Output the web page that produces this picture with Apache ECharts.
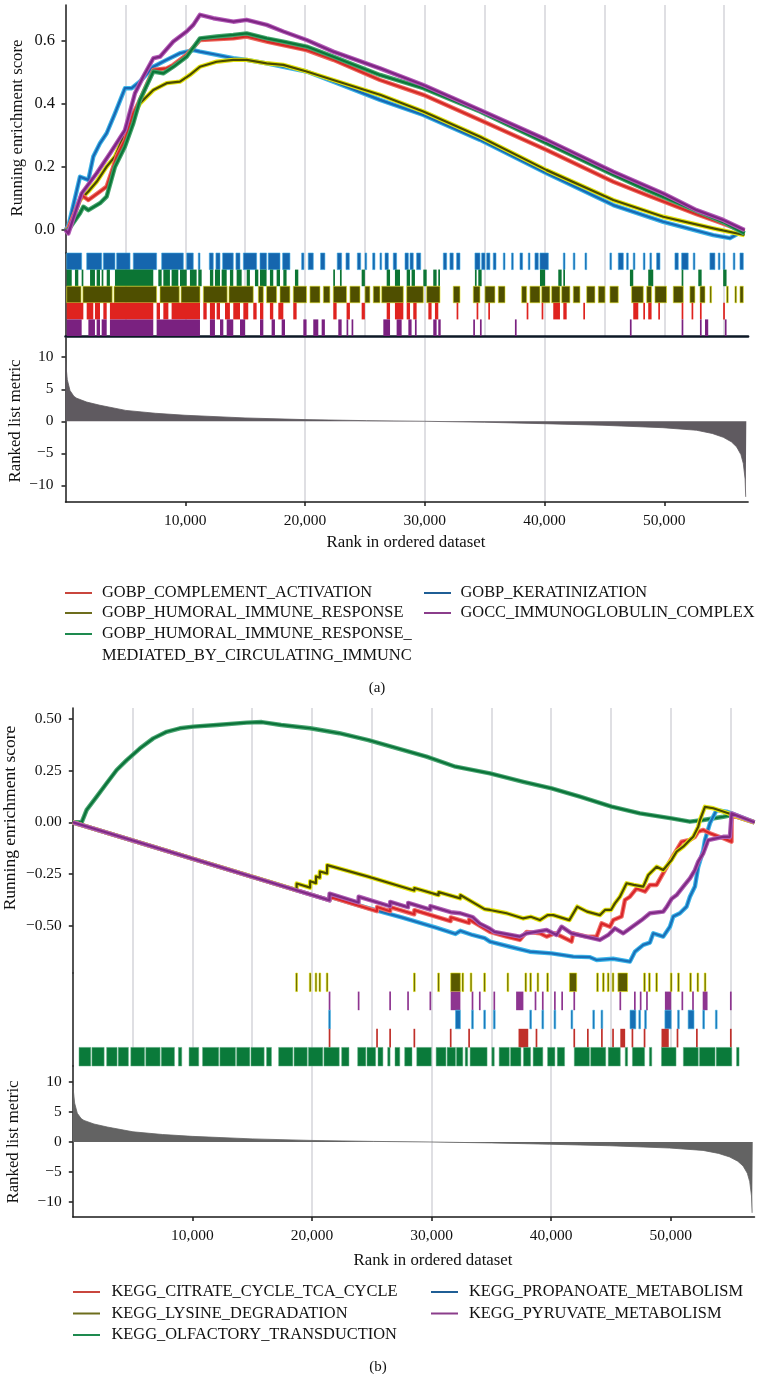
<!DOCTYPE html>
<html><head><meta charset="utf-8">
<script src="https://cdn.jsdelivr.net/npm/echarts@6/dist/echarts.min.js"></script>
<style>html,body{margin:0;padding:0;background:#fff}#c{width:761px;height:1374px}</style>
</head><body><div id="c"></div>
<script>
// ---------------- DATA ----------------
const rankMax = 57000;
const rankTicks = [10000, 20000, 30000, 40000, 50000];
const esTicksA = [0, 0.2, 0.4, 0.6];
const esTicksB = [-0.5, -0.25, 0, 0.25, 0.5];
const metricTicks = [-10, -5, 0, 5, 10];

const namesA = ['GOBP_COMPLEMENT_ACTIVATION', 'GOBP_HUMORAL_IMMUNE_RESPONSE',
  'GOBP_HUMORAL_IMMUNE_RESPONSE_MEDIATED_BY_CIRCULATING_IMMUNC', 'GOBP_KERATINIZATION',
  'GOCC_IMMUNOGLOBULIN_COMPLEX'];
const namesB = ['KEGG_CITRATE_CYCLE_TCA_CYCLE', 'KEGG_LYSINE_DEGRADATION',
  'KEGG_OLFACTORY_TRANSDUCTION', 'KEGG_PROPANOATE_METABOLISM', 'KEGG_PYRUVATE_METABOLISM'];

// running enrichment score, panel (a): [rank, score]
const esA_complement = [[0,0],[236,0.005],[1349,0.111],[1906,0.095],[2880,0.122],[3437,0.138],[4272,0.233],[4967,0.286],[5663,0.37],[6220,0.413],[7333,0.508],[8446,0.513],[9003,0.524],[10116,0.556],[11229,0.603],[14012,0.608],[15125,0.614],[16795,0.598],[20135,0.571],[22361,0.54],[26261,0.476],[29879,0.429],[34610,0.349],[40176,0.254],[45742,0.153],[48525,0.111],[52700,0.05],[54926,0.02],[56700,-0.005]];
const esA_humoral = [[0,0],[236,0],[1210,0.095],[1906,0.122],[2602,0.153],[3437,0.201],[4132,0.233],[4967,0.307],[5941,0.381],[6220,0.402],[7333,0.444],[8446,0.466],[9559,0.471],[10394,0.492],[11229,0.518],[12621,0.534],[14012,0.54],[15125,0.54],[16795,0.529],[18187,0.524],[20135,0.503],[22361,0.476],[26261,0.429],[29879,0.376],[34610,0.296],[40176,0.19],[45742,0.095],[49917,0.042],[54091,0.005],[56700,-0.016]];
const esA_mediated = [[0,0],[236,0],[1210,0.053],[1489,0.074],[1906,0.063],[2880,0.085],[3437,0.106],[4132,0.201],[4967,0.265],[5663,0.339],[6220,0.413],[7333,0.503],[8168,0.497],[9003,0.518],[10116,0.55],[11229,0.608],[12621,0.614],[14012,0.619],[15125,0.624],[16795,0.608],[18187,0.598],[20135,0.582],[22361,0.55],[26261,0.492],[29879,0.45],[34610,0.376],[40176,0.275],[45742,0.175],[48525,0.127],[52700,0.06],[54926,0.025],[56700,-0.011]];
const esA_keratinization = [[0,0],[236,0.011],[1210,0.169],[1906,0.159],[2323,0.233],[2880,0.275],[3437,0.307],[4132,0.37],[4967,0.45],[5524,0.45],[6220,0.471],[7333,0.518],[8446,0.54],[9559,0.561],[10672,0.571],[11229,0.566],[12621,0.556],[14012,0.545],[15125,0.54],[16795,0.529],[18187,0.518],[20135,0.503],[22361,0.471],[26261,0.413],[29879,0.365],[34610,0.286],[40176,0.18],[45742,0.079],[49917,0.026],[54091,-0.016],[55483,-0.026],[56700,0]];
const esA_immunoglobulin = [[0,0],[236,-0.011],[1349,0.116],[2602,0.18],[3715,0.243],[4967,0.317],[5802,0.434],[6498,0.487],[7333,0.545],[7889,0.55],[9003,0.598],[10116,0.63],[10672,0.651],[11229,0.683],[12342,0.672],[14012,0.661],[15125,0.667],[16795,0.651],[18187,0.63],[20135,0.603],[22361,0.566],[26261,0.513],[29879,0.46],[34610,0.381],[40176,0.286],[45742,0.185],[49917,0.116],[52700,0.063],[54926,0.032],[56700,0]];

// gene hits, panel (a): [firstRank, lastRank]
const hitsA_keratinization = [[100,1350],[1770,3020],[3160,4130],[4270,5390],[5660,7610],[8030,9840],[10120,10670],[11090,11230],[12010,12340],[12560,12900],[13120,14010],[14230,14570],[14850,15960],[16240,16790],[16930,17910],[18130,18740],[19720,19910],[20270,20690],[21300,21660],[22690,23060],[23420,23700],[24370,24650],[25010,25150],[25650,25840],[26260,26400],[26680,26960],[27370,27650],[28350,28630],[28770,29040],[29320,29660],[31550,31830],[32100,32380],[32660,32940],[34190,34610],[34750,35030],[35170,35440],[35720,35950],[36560,36700],[37250,37390],[37950,38170],[38650,38780],[39200,39480],[39620,40320],[41570,41710],[42400,42540],[43380,43520],[45460,45600],[46160,46580],[46860,46990],[47410,47550],[48250,48390],[48800,48940],[49360,49640],[50890,51170],[51450,52000],[52420,52560],[53810,54230],[54510,54650],[54920,55060],[55760,55900],[56320,56600]];
const hitsA_mediated = [[100,520],[790,1070],[1350,1490],[2050,2460],[2600,2880],[3020,3160],[3440,3710],[4130,7330],[7750,8030],[8170,8720],[8860,9420],[9560,10120],[10390,10950],[11090,11370],[12060,12340],[12480,12900],[13040,13460],[13730,14010],[14290,14710],[15130,15400],[15820,16100],[16240,16790],[17070,17350],[17630,17910],[18190,18460],[19160,19440],[22360,22500],[22920,23060],[24730,25000],[26820,27100],[27510,27930],[28490,28770],[28900,29180],[29880,30160],[30710,30990],[31130,31270],[34190,34330],[34470,34750],[39620,40040],[41150,41430],[41570,41710],[47130,47410],[48660,49080],[51450,51590],[52840,53120],[54920,55200]];
const hitsA_humoral = [[100,1300],[1450,3900],[4050,7610],[7890,9500],[9650,11230],[11510,13500],[13650,15680],[16100,16520],[16790,17630],[17910,18740],[19020,20130],[20410,21250],[21530,22080],[22360,23470],[23750,24590],[25010,25420],[25700,26260],[26400,28210],[28490,29880],[30160,31270],[32380,32940],[34050,34610],[35030,35860],[36140,36700],[38090,38510],[38780,39620],[39760,40450],[40590,41290],[41430,42120],[42400,42960],[43520,44210],[44490,45050],[45460,46160],[47270,48250],[48530,48940],[49220,50190],[50750,51590],[52140,52560],[52980,53400],[53810,53950],[55200,55340],[55900,56040],[56320,56600]];
const hitsA_complement = [[100,1490],[1770,2320],[2460,2880],[3160,3440],[3710,7330],[7610,7890],[8170,8590],[8860,11230],[11510,11790],[12060,12480],[12620,12900],[13320,13730],[14010,14570],[14850,15260],[15680,15960],[16240,16520],[17070,17350],[17770,18190],[19020,19300],[22360,22640],[23470,23750],[24730,25000],[26820,27100],[27510,28210],[28490,28770],[29040,29320],[30300,30570],[30850,31130],[32660,32800],[34330,34470],[35310,35440],[38510,38650],[39760,39900],[40730,41290],[41570,41850],[43240,43380],[47410,47830],[48250,48390],[48660,48940],[49500,49640],[51450,51590],[52280,52420],[52980,53120],[54920,55060]];
const hitsA_immunoglobulin = [[100,1350],[1910,2460],[2600,2880],[3020,3440],[3710,7330],[7610,11230],[12060,12480],[12900,13180],[13460,14010],[14570,14990],[16240,16520],[17210,17490],[18050,18330],[19860,20130],[20690,21110],[21390,21660],[22780,23060],[23470,23610],[23890,24030],[26540,27100],[27650,28070],[28630,28900],[29180,29320],[30710,30990],[31130,31330],[34050,34190],[34610,34750],[37530,37670],[47130,47270],[51450,51590],[52980,53120],[53400,53670],[55060,55200]];

// running enrichment score, panel (b)
const esB_citrate = [[0,0],[21460,-0.377],[21470,-0.36],[25430,-0.43],[25440,-0.41],[26530,-0.43],[26540,-0.41],[28550,-0.445],[28560,-0.425],[31590,-0.478],[31600,-0.46],[33130,-0.487],[33140,-0.47],[34878,-0.53],[36272,-0.553],[37386,-0.569],[37944,-0.53],[39058,-0.537],[39616,-0.553],[40313,-0.537],[41706,-0.577],[41845,-0.537],[42960,-0.553],[43796,-0.553],[44215,-0.489],[44912,-0.505],[45190,-0.473],[45887,-0.456],[46166,-0.376],[46583,-0.36],[47140,-0.32],[47838,-0.335],[48256,-0.303],[48813,-0.303],[49510,-0.231],[50066,-0.174],[50903,-0.094],[51600,-0.085],[52018,-0.07],[52297,-0.045],[52715,-0.037],[53273,-0.053],[54387,-0.077],[55080,-0.094],[55090,0.035],[57000,0]];
const esB_lysine = [[0,0],[18710,-0.328],[18720,-0.296],[19840,-0.316],[19850,-0.285],[20330,-0.294],[20340,-0.262],[20650,-0.268],[20660,-0.238],[21260,-0.247],[21270,-0.207],[24700,-0.263],[28550,-0.33],[28560,-0.318],[30580,-0.352],[30590,-0.338],[32400,-0.368],[32410,-0.352],[34430,-0.42],[34878,-0.424],[36272,-0.44],[37665,-0.465],[38290,-0.457],[39058,-0.473],[39700,-0.449],[40173,-0.449],[41520,-0.473],[42180,-0.408],[43000,-0.432],[44075,-0.449],[44500,-0.424],[45000,-0.424],[45329,-0.392],[45750,-0.36],[46305,-0.295],[46900,-0.303],[47698,-0.311],[48120,-0.255],[48813,-0.215],[49370,-0.231],[50066,-0.182],[50485,-0.142],[51040,-0.118],[51600,-0.085],[51879,-0.07],[52297,-0.021],[52437,0.011],[52855,0.075],[53550,0.068],[55000,0.04],[57000,0]];
const esB_olfactory = [[0,0],[740,0],[1160,0.06],[2000,0.124],[2830,0.189],[3670,0.253],[4510,0.301],[5620,0.358],[6730,0.406],[7850,0.438],[8960,0.455],[10070,0.463],[12030,0.471],[14540,0.482],[15800,0.485],[17420,0.471],[19850,0.455],[22280,0.431],[24710,0.398],[27140,0.358],[29570,0.318],[32000,0.269],[34878,0.237],[37665,0.196],[40034,0.164],[42403,0.124],[45050,0.076],[47420,0.043],[50066,0.019],[51600,0.003],[52715,0.011],[54387,0.027],[55100,0.035],[57000,0]];
const esB_propanoate = [[0,0],[21460,-0.377],[21470,-0.36],[24700,-0.415],[27500,-0.46],[30380,-0.51],[32000,-0.54],[32400,-0.525],[33420,-0.545],[34434,-0.56],[34878,-0.577],[36550,-0.602],[38222,-0.626],[40034,-0.634],[41845,-0.65],[43200,-0.652],[43796,-0.666],[45180,-0.66],[46583,-0.674],[47001,-0.626],[47698,-0.593],[48256,-0.582],[48534,-0.537],[49371,-0.553],[49928,-0.505],[50206,-0.456],[50763,-0.44],[51322,-0.408],[51600,-0.36],[52018,-0.311],[52297,-0.215],[52715,-0.134],[52855,-0.086],[53270,-0.005],[53830,0.059],[54665,0.052],[55000,0.045],[57000,0]];
const esB_pyruvate = [[0,0],[21460,-0.377],[21470,-0.345],[23890,-0.388],[23900,-0.36],[26530,-0.406],[26540,-0.385],[28030,-0.411],[28040,-0.39],[29890,-0.422],[29900,-0.405],[31600,-0.435],[32400,-0.44],[33420,-0.458],[34030,-0.49],[34878,-0.515],[35250,-0.53],[37386,-0.553],[37944,-0.537],[39616,-0.521],[40452,-0.545],[40870,-0.505],[41706,-0.537],[44075,-0.569],[44772,-0.545],[45329,-0.513],[46027,-0.537],[47559,-0.473],[48256,-0.44],[49371,-0.432],[49650,-0.41],[50066,-0.37],[50485,-0.352],[51043,-0.311],[51600,-0.271],[52018,-0.231],[52297,-0.19],[52715,-0.15],[53134,-0.086],[54387,-0.07],[54945,-0.07],[55085,0.043],[57000,0]];

// gene hits, panel (b)
const hitsB_lysine = [[18712,18712],[19847,19847],[20333,20333],[20657,20657],[21265,21265],[28559,28559],[30585,30585],[31598,32408],[32611,32611],[33299,33299],[34434,34434],[36379,36379],[37878,37878],[38283,38283],[38891,38891],[39702,39702],[41525,42133],[43875,43875],[44361,44361],[44767,44767],[45172,45172],[45577,46387],[47806,47806],[48211,48211],[48819,48819],[50034,50034],[50642,50642],[51655,51655],[52263,52263],[52871,52871]];
const hitsB_pyruvate = [[21468,21468],[23899,23899],[26533,26533],[28032,28032],[29896,29896],[31598,32408],[33421,33421],[34029,34029],[35244,35244],[37068,37676],[38689,38689],[39296,39296],[40309,40309],[40917,40917],[41930,41930],[45780,45780],[46995,46995],[47481,47481],[48008,48008],[49508,50034],[50966,50966],[51858,51858],[52668,53073],[55018,55018]];
const hitsB_propanoate = [[21468,21468],[32003,32408],[33421,33421],[34434,34434],[35244,35244],[38283,38283],[39296,39296],[40309,40309],[41728,41728],[43551,43551],[44240,44240],[46590,47076],[47400,47400],[47887,47887],[49508,50034],[50642,50642],[51452,51939],[52749,52749],[53803,53803]];
const hitsB_citrate = [[21468,21468],[25439,25439],[26533,26533],[28559,28559],[31598,31598],[33137,33137],[37270,38081],[38770,38770],[41930,41930],[43065,43065],[44240,44240],[45172,45172],[45780,46185],[46793,46793],[47806,47806],[49224,49831],[50561,50561],[52182,52182],[55018,55018]];
const hitsB_olfactory = [[520,1500],[1600,2620],[2830,3700],[3800,4650],[4850,6000],[6100,7300],[7400,8500],[8830,9110],[9720,10530],[10850,12200],[12300,13600],[13700,14800],[14900,16000],[16200,16610],[17210,18400],[18500,19600],[19700,20900],[21000,22280],[22480,23090],[23820,24500],[24600,25320],[25520,25930],[26330,26530],[26940,27340],[27750,28360],[28760,29980],[30380,31200],[31300,32000],[32080,32610],[32810,33020],[33220,34640],[35040,35240],[35650,36500],[36600,37470],[37680,38280],[38490,39300],[39700,40310],[40510,41120],[41930,43200],[43300,44560],[44770,45780],[46190,46390],[46790,47810],[48210,48410],[49220,50440],[51050,52300],[52400,53700],[53800,55100],[55500,55710]];

// ranked list metric (same ranked list in both panels): [rank, metric]
const metricRanked = [[0,9.5],[150,6.5],[375,4.8],[700,3.9],[935,3.6],[1770,3.0],[2880,2.5],[5030,1.7],[7500,1.25],[9980,0.94],[15000,0.52],[20000,0.26],[25150,0.1],[30000,0.0],[35000,-0.15],[39870,-0.37],[44880,-0.62],[49890,-1.0],[52700,-1.4],[54000,-1.9],[54930,-2.5],[55600,-3.2],[56045,-4.0],[56400,-5.2],[56600,-6.6],[56750,-9.0],[56800,-11.8],[56850,-11.8]];

// ---------------- STYLE / LAYOUT ----------------
const FONT = 'Liberation Serif';
const INK = '#111';
const AXIS = {color: '#1a1a1a', width: 1.5};
const GRIDLINE = {color: '#dadade', width: 1.7};

const gridsA = {left: 65.5, width: 682.6};
const gridsB = {left: 72.8, width: 681.7};
const grid = [
  {left: gridsA.left, width: gridsA.width, top: 5, height: 248},
  {left: gridsA.left, width: gridsA.width, top: 253, height: 83},
  {left: gridsA.left, width: gridsA.width, top: 338, height: 164},
  {left: gridsB.left, width: gridsB.width, top: 708, height: 265},
  {left: gridsB.left, width: gridsB.width, top: 973, height: 93},
  {left: gridsB.left, width: gridsB.width, top: 1066, height: 151}
];

const minus = s => s.replace('-', '\u2212');
function fmtDec(d) { return v => minus(Number(v).toFixed(d)); }
function fmtInt(v) { return minus(String(Math.round(v))); }

function xAx(i, bottom, lineOpt) {
  const a = {
    type: 'value', gridIndex: i, min: 0, max: rankMax, interval: 5000,
    axisLine: {show: false, onZero: false},
    axisTick: {show: false}, axisLabel: {show: false},
    splitLine: {show: true, showMinLine: false, showMaxLine: false, lineStyle: GRIDLINE}
  };
  if (lineOpt) a.axisLine = {show: true, onZero: false, lineStyle: lineOpt};
  if (bottom) {
    a.axisLine = {show: true, onZero: false, lineStyle: AXIS};
    a.axisTick = {show: true, length: 4, customValues: rankTicks, lineStyle: AXIS};
    a.axisLabel = {show: true, customValues: rankTicks, margin: 11,
      formatter: v => Number(v).toLocaleString('en-US'),
      fontFamily: FONT, fontSize: 15.5, color: INK};
  }
  return a;
}
function yAx(i, min, max, ticks, fmt, fs, margin, inverse) {
  const a = {
    type: 'value', gridIndex: i, min, max, inverse: !!inverse,
    axisLine: {show: true, onZero: false, lineStyle: AXIS},
    axisTick: {show: false}, axisLabel: {show: false}, splitLine: {show: false}
  };
  if (ticks) {
    a.axisTick = {show: true, length: 4, customValues: ticks, lineStyle: AXIS};
    a.axisLabel = {show: true, customValues: ticks, formatter: fmt, margin,
      fontFamily: FONT, fontSize: fs, color: INK};
  }
  return a;
}

const xAxis = [xAx(0), xAx(1, false, {color: '#0d1826', width: 2.5}), xAx(2, true),
               xAx(3), xAx(4), xAx(5, true)];
const yAxis = [
  yAx(0, -0.073, 0.714, esTicksA, fmtDec(1), 16.5, 10.5),
  yAx(1, 0, 5, null, null, 0, 0, true),
  yAx(2, -12.6, 13.0, metricTicks, fmtInt, 15.5, 12),
  yAx(3, -0.729, 0.553, esTicksB, fmtDec(2), 15.5, 11),
  yAx(4, 0, 5, null, null, 0, 0, true),
  yAx(5, -12.5, 12.67, metricTicks, fmtInt, 15.5, 11)
];

const series = [];
function addES(name, data, ax, core, halo) {
  series.push({type: 'line', name: name + ' ', xAxisIndex: ax, yAxisIndex: ax, data,
    symbol: 'none', silent: true, animation: false, lineStyle: {color: halo, width: 4.4, join: 'round'}});
  series.push({type: 'line', name, xAxisIndex: ax, yAxisIndex: ax, data,
    symbol: 'none', silent: true, animation: false, lineStyle: {color: core, width: 2.2, join: 'round'}});
}
function addHits(name, hits, ax, row, fill, stroke, lw) {
  series.push({
    type: 'custom', name: name + ' hits', xAxisIndex: ax, yAxisIndex: ax, silent: true, animation: false,
    data: hits.map(h => [h[0], h[1], row]),
    encode: {x: [0, 1], y: 2},
    renderItem: function (params, api) {
      const p0 = api.coord([api.value(0), api.value(2)]);
      const p1 = api.coord([api.value(1), api.value(2) + 1]);
      let x = p0[0], w = p1[0] - p0[0];
      const mw = 1.7;
      if (w < mw) { x -= (mw - w) / 2; w = mw; }
      return {type: 'rect', shape: {x, y: p0[1], width: w, height: p1[1] - p0[1]},
        style: {fill, stroke: stroke || null, lineWidth: lw || 0}};
    }
  });
}
function addMetric(ax, color) {
  series.push({type: 'line', name: 'Ranked list metric', xAxisIndex: ax, yAxisIndex: ax,
    data: metricRanked, symbol: 'none', silent: true, animation: false,
    lineStyle: {color, width: 0.8}, areaStyle: {color, opacity: 1}});
}

// panel (a)
addES(namesA[3], esA_keratinization, 0, '#1768b4', '#3db3e6');
addES(namesA[1], esA_humoral, 0, '#4a4a00', '#e4e410');
addES(namesA[0], esA_complement, 0, '#d42a26', '#ee6a60');
addES(namesA[2], esA_mediated, 0, '#0c7638', '#44a46c');
addES(namesA[4], esA_immunoglobulin, 0, '#7e2683', '#b25ab6');
addHits(namesA[3], hitsA_keratinization, 1, 0, '#1566ae', '#3aa8e0', 0.6);
addHits(namesA[2], hitsA_mediated, 1, 1, '#0c7534', null, 0);
addHits(namesA[1], hitsA_humoral, 1, 2, '#4f4f00', '#e2e21a', 0.6);
addHits(namesA[0], hitsA_complement, 1, 3, '#df231f', null, 0);
addHits(namesA[4], hitsA_immunoglobulin, 1, 4, '#7a2180', null, 0);
addMetric(2, '#5f5a60');

// panel (b)
addES(namesB[2], esB_olfactory, 3, '#0b7339', '#4aa572');
addES(namesB[3], esB_propanoate, 3, '#1a70b8', '#3cb6ea');
addES(namesB[0], esB_citrate, 3, '#d9262a', '#f0706a');
addES(namesB[1], esB_lysine, 3, '#4a4a00', '#e6e612');
addES(namesB[4], esB_pyruvate, 3, '#7f2a84', '#b060b5');
addHits(namesB[1], hitsB_lysine, 4, 0, '#5a5a00', '#e6e600', 0.6);
addHits(namesB[4], hitsB_pyruvate, 4, 1, '#8e3590', null, 0);
addHits(namesB[3], hitsB_propanoate, 4, 2, '#1670b5', '#3fb0e0', 0.6);
addHits(namesB[0], hitsB_citrate, 4, 3, '#c0302a', null, 0);
addHits(namesB[2], hitsB_olfactory, 4, 4, '#0a7a3a', '#5fae82', 0.5);
addMetric(5, '#636363');

// ---------------- TEXT / LEGEND ----------------
function txt(text, x, y, fs, rot, align, valign, lh) {
  const st = {text, fontFamily: FONT, fontSize: fs, fill: INK,
      font: fs + 'px ' + FONT,
      align: align || 'center', verticalAlign: valign || 'middle',
      textAlign: align || 'center', textVerticalAlign: valign || 'middle'};
  if (lh) st.lineHeight = lh;
  return {type: 'text', x, y, rotation: rot || 0, silent: true, style: st};
}
const graphic = [
  txt('Running enrichment score', 18, 128, 16.8, Math.PI / 2),
  txt('Ranked list metric', 16, 421, 16.8, Math.PI / 2),
  txt('Rank in ordered dataset', 406, 543, 16.8),
  txt('(a)', 377, 688, 15),
  txt('Running enrichment score', 10, 818, 17.5, Math.PI / 2),
  txt('Ranked list metric', 14, 1142, 16.8, Math.PI / 2),
  txt('Rank in ordered dataset', 433, 1261, 16.8),
  txt('(b)', 378, 1367, 15)
];
const legColorsA = ['#c9463d', '#6d6d1d', '#1e8a4f', '#1f5e95', '#8b3d8b'];
const legColorsB = ['#c9463d', '#6d6d1d', '#1e8a4f', '#1f5e95', '#8b3d8b'];
function addLegend(names, colors, slots) {
  names.forEach((n, i) => {
    const s = slots[i];
    graphic.push({type: 'line', silent: true, shape: {x1: s[0], y1: s[2], x2: s[0] + 27, y2: s[2]},
      style: {stroke: colors[i], lineWidth: 2}});
    const label = n.replace('RESPONSE_MEDIATED', 'RESPONSE_\nMEDIATED');
    graphic.push(txt(label, s[1], s[2] - 11, 16.4, 0, 'left', 'top', 22));
  });
}
addLegend(namesA, legColorsA, [[65, 102, 593], [65, 102, 613], [65, 102, 634], [424, 460.5, 593], [424, 460.5, 613]]);
addLegend(namesB, legColorsB, [[73, 111.5, 1292], [73, 111.5, 1313.5], [73, 111.5, 1335], [431, 469, 1292], [431, 469, 1313.5]]);

const chart = echarts.init(document.getElementById('c'), null, {renderer: 'canvas', width: 761, height: 1374});
chart.setOption({
  animation: false,
  backgroundColor: '#ffffff',
  grid, xAxis, yAxis, series, graphic
});
</script>
</body></html>
